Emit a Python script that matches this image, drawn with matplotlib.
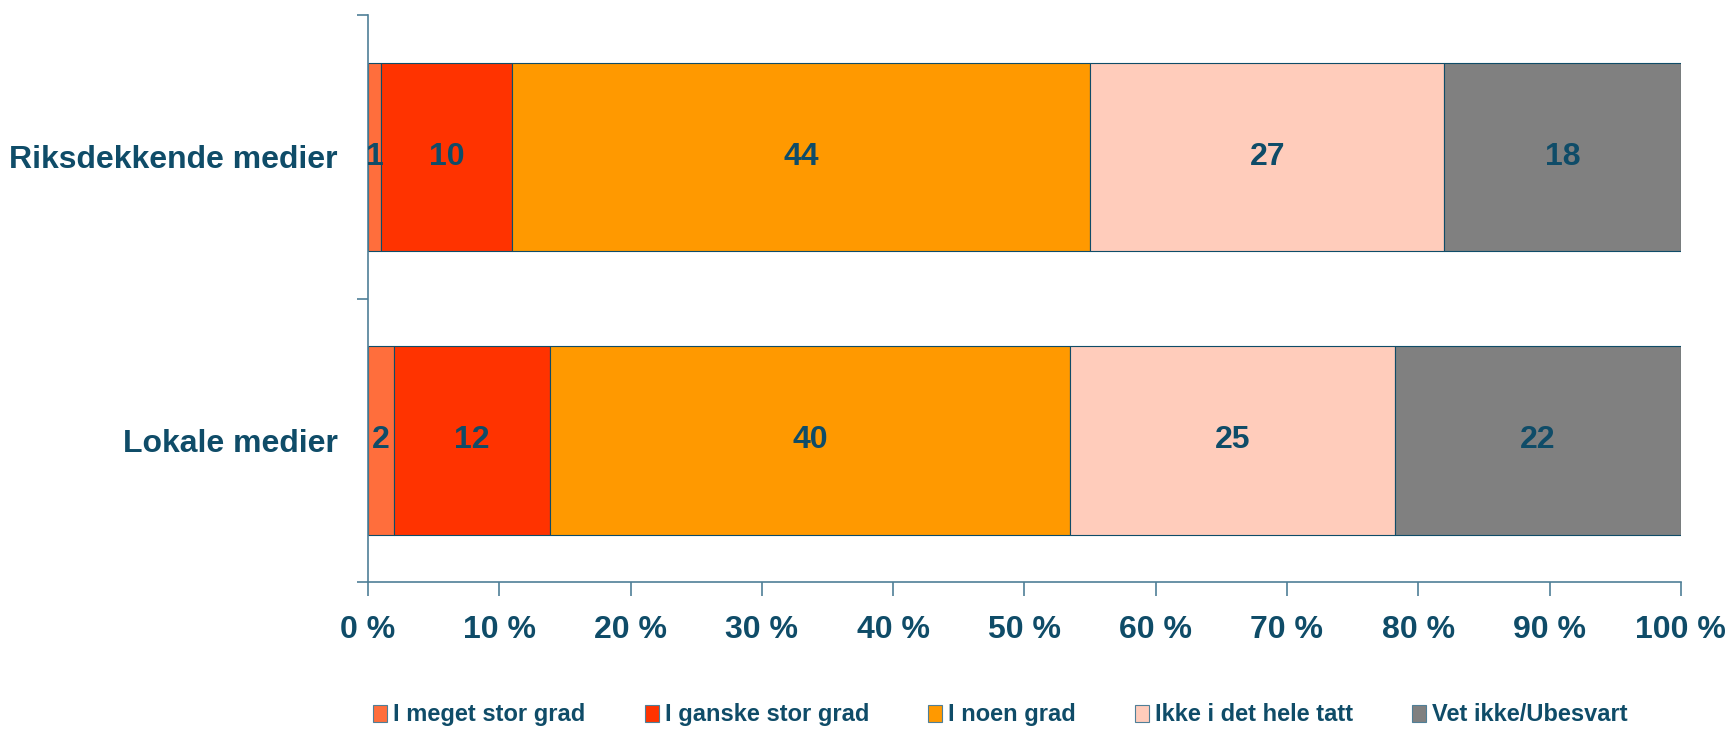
import numpy as np
import matplotlib
matplotlib.use("Agg")
import matplotlib.pyplot as plt

# data
categories = ["Riksdekkende medier", "Lokale medier"]
series_names = ["I meget stor grad", "I ganske stor grad", "I noen grad",
                "Ikke i det hele tatt", "Vet ikke/Ubesvart"]
values = {
    "Riksdekkende medier": [1, 10, 44, 27, 18],
    "Lokale medier": [2, 12, 40, 25, 22],
}
colors = ["#FF6E3C", "#FF3300", "#FF9900", "#FFCCBB", "#808080"]
xtick_labels = ["0 %", "10 %", "20 %", "30 %", "40 %", "50 %",
                "60 %", "70 %", "80 %", "90 %", "100 %"]

text_col = "#0F4C68"
axis_col = "#4F7F97"
font = ["Liberation Sans", "DejaVu Sans"]

fig = plt.figure(figsize=(17.31, 7.31), dpi=100)
ax = fig.add_axes([0.2126, 0.204, 0.971 - 0.2126, 0.979 - 0.204])

# first category on top
ypos = np.arange(len(categories))[::-1]
vals = np.array([values[c] for c in categories], dtype=float)
pct = vals / vals.sum(axis=1, keepdims=True) * 100

left = np.zeros(len(categories))
handles = []
for j, name in enumerate(series_names):
    h = ax.barh(ypos, pct[:, j], left=left, height=0.667, color=colors[j],
                edgecolor=text_col, linewidth=0.8, label=name)
    handles.append(h)
    for i in range(len(categories)):
        ax.text(left[i] + pct[i, j] / 2, ypos[i], str(int(vals[i, j])),
                ha="center", va="center", fontsize=23, fontweight="bold",
                color=text_col, family=font)
    left = left + pct[:, j]

ax.set_xlim(0, 100)
ax.set_ylim(-0.5, 1.5)

ax.set_xticks(np.arange(0, 101, 10))
ax.set_xticklabels(xtick_labels, fontsize=23, fontweight="bold",
                   color=text_col, family=font)
ax.tick_params(axis="x", direction="out", length=10, width=1.2,
               color=axis_col, pad=14)

ax.set_yticks(ypos)
ax.set_yticklabels(categories, fontsize=23, fontweight="bold",
                   color=text_col, family=font)
ax.tick_params(axis="y", which="major", length=0, pad=22)
ax.set_yticks([-0.5, 0.5, 1.5], minor=True)
ax.tick_params(axis="y", which="minor", direction="out", length=8,
               width=1.2, color=axis_col)

for s in ["top", "right"]:
    ax.spines[s].set_visible(False)
for s in ["left", "bottom"]:
    ax.spines[s].set_color(axis_col)
    ax.spines[s].set_linewidth(1.2)

leg = fig.legend(handles=handles, labels=series_names, loc="center",
                 bbox_to_anchor=(0.578, 0.022), ncol=5, frameon=False,
                 prop={"family": font, "weight": "bold", "size": 17},
                 handlelength=0.6, handleheight=0.75, handletextpad=0.25,
                 columnspacing=2.5, borderpad=0)
for t in leg.get_texts():
    t.set_color(text_col)
for p in leg.get_patches():
    p.set_edgecolor(axis_col)

fig.savefig("out.png", dpi=100)
